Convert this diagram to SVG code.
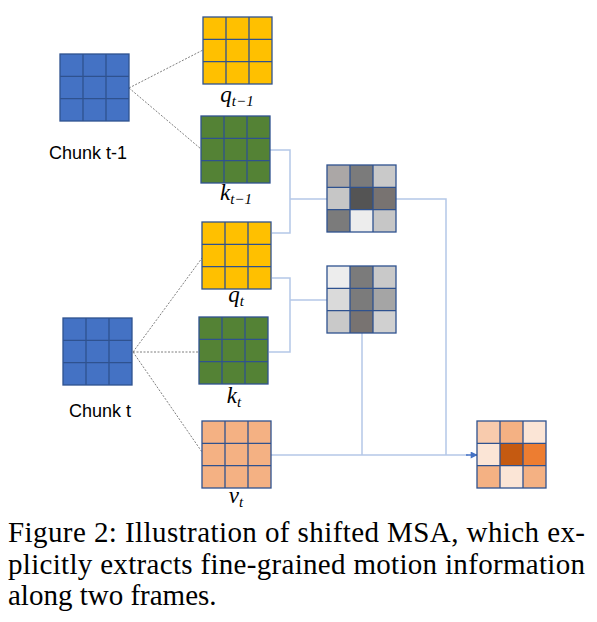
<svg xmlns="http://www.w3.org/2000/svg" width="597" height="622" viewBox="0 0 597 622">
<defs>
<style>
.grid{stroke:#2F528F;stroke-width:1.3;fill:none}
.conn{stroke:#B4C7E7;stroke-width:1.5;fill:none}
.dot{stroke:#7F7F7F;stroke-width:1;stroke-dasharray:2 1.5;fill:none}
.lbl{font-family:"Liberation Sans",Arial,sans-serif;font-size:18px;fill:#000}
.math{font-family:"Liberation Serif","DejaVu Serif",serif;font-style:italic;font-size:23px;fill:#000}
.sub{font-size:15px}
.cap{font-family:"Liberation Serif","Times New Roman",serif;font-size:29px;fill:#000}
</style>
<marker id="arr" viewBox="0 0 10 10" refX="9" refY="5" markerWidth="8" markerHeight="7" orient="auto" markerUnits="userSpaceOnUse">
<path d="M0,0 L10,5 L0,10 z" fill="#4472C4"/>
</marker>
<g id="g3">
<path class="grid" d="M23,0V67M46,0V67M0,22.3H69M0,44.7H69"/>
<rect class="grid" x="0" y="0" width="69" height="67"/>
</g>
</defs>
<rect width="597" height="622" fill="#fff"/>

<g id="connectors">
<path class="dot" d="M129,88 L203,50"/>
<path class="dot" d="M129,88 L201,149"/>
<path class="dot" d="M133,352 L202,258"/>
<path class="dot" d="M133,352 L199,352"/>
<path class="dot" d="M133,352 L202,452"/>
<path class="conn" d="M270,150 H290 V233 H272"/>
<path class="conn" d="M290,199 H327"/>
<path class="conn" d="M272,278 H290 V352 H269"/>
<path class="conn" d="M290,300 H327"/>
<path class="conn" d="M396,199 H446 V455"/>
<path class="conn" d="M362,333 V455"/>
<path class="conn" d="M271,455 H468"/>
<path d="M466,455 H477" stroke="#4472C4" stroke-width="1.5" fill="none" marker-end="url(#arr)"/>
</g>

<g id="chunk-t-1">
<rect x="60" y="54" width="69" height="67" fill="#4472C4"/>
<use href="#g3" x="60" y="54"/>
<text class="lbl" x="88" y="159" text-anchor="middle">Chunk t-1</text>
</g>

<g id="q-t-1">
<rect x="203" y="17" width="69" height="67" fill="#FFC000"/>
<use href="#g3" x="203" y="17"/>
<text class="math" x="237" y="102" text-anchor="middle">q<tspan class="sub" dy="4">t−1</tspan></text>
</g>

<g id="k-t-1">
<rect x="201" y="116" width="69" height="67" fill="#548235"/>
<use href="#g3" x="201" y="116"/>
<text class="math" x="236" y="200" text-anchor="middle">k<tspan class="sub" dy="4">t−1</tspan></text>
</g>

<g id="q-t">
<rect x="202" y="222" width="69" height="67" fill="#FFC000"/>
<use href="#g3" x="202" y="222"/>
<text class="math" x="236" y="302" text-anchor="middle">q<tspan class="sub" dy="4">t</tspan></text>
</g>

<g id="chunk-t">
<rect x="63" y="318" width="69" height="67" fill="#4472C4"/>
<use href="#g3" x="63" y="318"/>
<text class="lbl" x="100" y="417" text-anchor="middle">Chunk t</text>
</g>

<g id="k-t">
<rect x="199" y="317" width="69" height="67" fill="#548235"/>
<use href="#g3" x="199" y="317"/>
<text class="math" x="234" y="403" text-anchor="middle">k<tspan class="sub" dy="4">t</tspan></text>
</g>

<g id="v-t">
<rect x="202" y="421" width="69" height="67" fill="#F4B183"/>
<use href="#g3" x="202" y="421"/>
<text class="math" x="236" y="503" text-anchor="middle">v<tspan class="sub" dy="4">t</tspan></text>
</g>

<g id="attn-1">
<rect x="327" y="165" width="23" height="22.3" fill="#ABA7A6"/>
<rect x="350" y="165" width="23" height="22.3" fill="#7B7B7B"/>
<rect x="373" y="165" width="23" height="22.3" fill="#C9C9C9"/>
<rect x="327" y="187.3" width="23" height="22.4" fill="#C6C6C6"/>
<rect x="350" y="187.3" width="23" height="22.4" fill="#545454"/>
<rect x="373" y="187.3" width="23" height="22.4" fill="#787371"/>
<rect x="327" y="209.7" width="23" height="22.3" fill="#7B7B7B"/>
<rect x="350" y="209.7" width="23" height="22.3" fill="#EDEDED"/>
<rect x="373" y="209.7" width="23" height="22.3" fill="#C6C6C6"/>
<use href="#g3" x="327" y="165"/>
</g>

<g id="attn-2">
<rect x="327" y="266" width="23" height="22.3" fill="#EDEDED"/>
<rect x="350" y="266" width="23" height="22.3" fill="#7B7B7B"/>
<rect x="373" y="266" width="23" height="22.3" fill="#C9C9C9"/>
<rect x="327" y="288.3" width="23" height="22.4" fill="#DADADA"/>
<rect x="350" y="288.3" width="23" height="22.4" fill="#7B7B7B"/>
<rect x="373" y="288.3" width="23" height="22.4" fill="#A5A5A5"/>
<rect x="327" y="310.7" width="23" height="22.3" fill="#C9C9C9"/>
<rect x="350" y="310.7" width="23" height="22.3" fill="#787371"/>
<rect x="373" y="310.7" width="23" height="22.3" fill="#D0D0D0"/>
<use href="#g3" x="327" y="266"/>
</g>

<g id="output">
<rect x="477" y="421" width="23" height="22.3" fill="#F8CBAD"/>
<rect x="500" y="421" width="23" height="22.3" fill="#F4B183"/>
<rect x="523" y="421" width="23" height="22.3" fill="#FBE5D6"/>
<rect x="477" y="443.3" width="23" height="22.4" fill="#FBE5D6"/>
<rect x="500" y="443.3" width="23" height="22.4" fill="#C55A11"/>
<rect x="523" y="443.3" width="23" height="22.4" fill="#ED7D31"/>
<rect x="477" y="465.7" width="23" height="22.3" fill="#F4B183"/>
<rect x="500" y="465.7" width="23" height="22.3" fill="#FBE5D6"/>
<rect x="523" y="465.7" width="23" height="22.3" fill="#F4B183"/>
<use href="#g3" x="477" y="421"/>
</g>

<g id="caption">
<text class="cap" x="8" y="542" textLength="577" lengthAdjust="spacing">Figure 2: Illustration of shifted MSA, which ex-</text>
<text class="cap" x="8" y="573.5" textLength="577" lengthAdjust="spacing">plicitly extracts fine-grained motion information</text>
<text class="cap" x="8" y="605">along two frames.</text>
</g>
</svg>
